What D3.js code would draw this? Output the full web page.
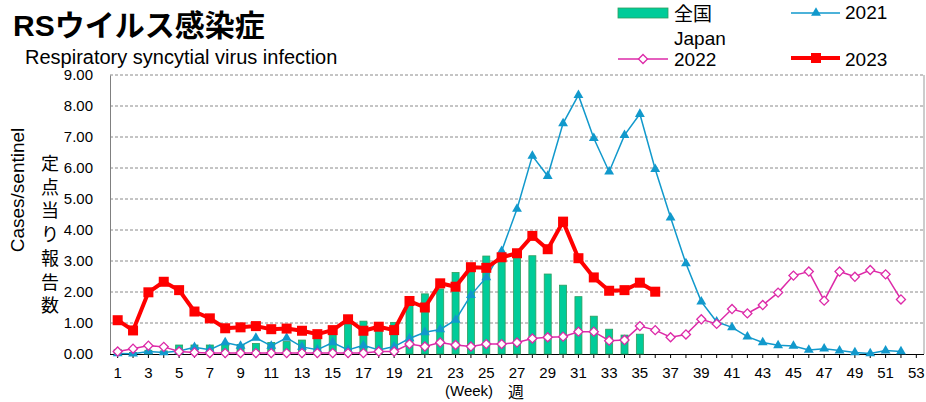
<!DOCTYPE html>
<html>
<head>
<meta charset="utf-8">
<script src="https://cdn.jsdelivr.net/npm/d3@7"></script>
<style>
  body { margin: 0; background: #fff; }
  svg { display: block; font-family: "Liberation Sans", Arial, "Noto Sans CJK JP", sans-serif; }
</style>
</head>
<body>
<svg id="chart" width="926" height="402"></svg>
<script>
// weeks on the x axis
const weeks = d3.range(1, 54);
const weekLabels = weeks.filter(w => w % 2 === 1);
const yTicks = [0, 1, 2, 3, 4, 5, 6, 7, 8, 9];

// 全国 Japan (bars), weeks 1-35
const japan = [0.15, 0.05, 0.12, 0.10, 0.29, 0.29, 0.29, 0.30, 0.31, 0.34,
  0.37, 0.40, 0.45, 0.50, 0.70, 1.04, 1.06, 0.92, 1.02, 1.62,
  1.94, 2.10, 2.63, 2.84, 3.16, 3.12, 3.20, 3.17, 2.58, 2.22,
  1.85, 1.22, 0.80, 0.61, 0.64];

// 2021, weeks 1-52
const y2021 = [0.02, 0.01, 0.08, 0.05, 0.10, 0.22, 0.14, 0.37, 0.26, 0.52,
  0.26, 0.52, 0.23, 0.14, 0.37, 0.13, 0.28, 0.13, 0.24, 0.50,
  0.70, 0.79, 1.10, 1.90, 2.47, 3.32, 4.68, 6.39, 5.74, 7.44,
  8.35, 6.96, 5.88, 7.06, 7.74, 5.96, 4.40, 2.92, 1.69, 1.04,
  0.86, 0.56, 0.37, 0.28, 0.26, 0.13, 0.17, 0.11, 0.05, 0.02,
  0.11, 0.08];

// 2022, weeks 1-52
const y2022 = [0.08, 0.17, 0.27, 0.23, 0.08, 0.05, 0.03, 0.03, 0.03, 0.03,
  0.03, 0.03, 0.03, 0.03, 0.03, 0.03, 0.03, 0.08, 0.08, 0.32,
  0.24, 0.37, 0.29, 0.24, 0.32, 0.32, 0.37, 0.50, 0.54, 0.56,
  0.72, 0.72, 0.43, 0.45, 0.90, 0.77, 0.54, 0.63, 1.12, 0.97,
  1.45, 1.31, 1.58, 1.98, 2.53, 2.66, 1.72, 2.66, 2.49, 2.71,
  2.57, 1.76];

// 2023, weeks 1-36
const y2023 = [1.09, 0.76, 1.99, 2.33, 2.06, 1.37, 1.15, 0.83, 0.86, 0.90,
  0.80, 0.82, 0.75, 0.64, 0.77, 1.12, 0.75, 0.88, 0.77, 1.71,
  1.50, 2.28, 2.17, 2.80, 2.78, 3.12, 3.25, 3.81, 3.38, 4.27,
  3.09, 2.47, 2.04, 2.06, 2.30, 2.01];

const C_BAR = "#00cc99", C_BAR_EDGE = "#2e9e5e";
const C_21 = "#1199cc", C_22 = "#dd2aa8", C_23 = "#ff0000";

const svg = d3.select("#chart");
const plotL = 110, plotR = 924, plotT = 75, plotB = 354;

const x = d3.scaleBand().domain(weeks).range([plotL, plotR]).padding(0);
const cx = w => x(w) + x.bandwidth() / 2;
const y = d3.scaleLinear().domain([0, 9]).range([plotB, plotT]);

// gridlines
svg.append("g").selectAll("line")
  .data(yTicks.filter(v => v > 0))
  .enter().append("line")
  .attr("x1", plotL).attr("x2", plotR)
  .attr("y1", d => y(d)).attr("y2", d => y(d))
  .attr("stroke", "#8a8a8a").attr("stroke-width", 1)
  .attr("stroke-dasharray", "3,2");

// right border
svg.append("line")
  .attr("x1", plotR).attr("x2", plotR).attr("y1", plotT).attr("y2", plotB)
  .attr("stroke", "#9a9a9a");

// y axis
const yAxis = svg.append("g")
  .attr("transform", `translate(${plotL},0)`)
  .call(d3.axisLeft(y).tickValues(yTicks).tickFormat(d3.format(".2f")).tickSize(0).tickPadding(17));
yAxis.select(".domain").attr("stroke", "#808080");
yAxis.selectAll("text").attr("font-size", 15).attr("fill", "#000")
  .attr("font-family", "'Liberation Sans', Arial, sans-serif");

// x axis
const xAxis = svg.append("g")
  .attr("transform", `translate(0,${plotB})`)
  .call(d3.axisBottom(x).tickSize(4).tickFormat(d => weekLabels.includes(d) ? d : ""));
xAxis.select(".domain").attr("stroke", "#000").attr("d", `M${plotL},0.5H${plotR}`);
xAxis.selectAll(".tick line").attr("stroke", "#000");
xAxis.selectAll("text").attr("font-size", 15).attr("fill", "#000").attr("dy", "0")
  .attr("y", 24).attr("font-family", "'Liberation Sans', Arial, sans-serif");

// bars
const barW = 7;
svg.append("g").selectAll("rect")
  .data(japan.map((v, i) => ({ w: i + 1, v })))
  .enter().append("rect")
  .attr("x", d => cx(d.w) - barW / 2)
  .attr("y", d => y(d.v))
  .attr("width", barW)
  .attr("height", d => plotB - y(d.v))
  .attr("fill", C_BAR)
  .attr("stroke", C_BAR_EDGE).attr("stroke-width", 0.8);

const line = d3.line().x(d => cx(d.w)).y(d => y(d.v));
const toPts = arr => arr.map((v, i) => ({ w: i + 1, v }));

// 2021
const p21 = toPts(y2021);
svg.append("path").datum(p21).attr("d", line)
  .attr("fill", "none").attr("stroke", C_21).attr("stroke-width", 1.5);
svg.append("g").selectAll("path").data(p21).enter().append("path")
  .attr("d", d3.symbol().type(d3.symbolTriangle).size(42))
  .attr("transform", d => `translate(${cx(d.w)},${y(d.v)})`)
  .attr("fill", C_21);

// 2022
const p22 = toPts(y2022);
svg.append("path").datum(p22).attr("d", line)
  .attr("fill", "none").attr("stroke", C_22).attr("stroke-width", 1.5);
svg.append("g").selectAll("rect").data(p22).enter().append("rect")
  .attr("x", -3.2).attr("y", -3.2).attr("width", 6.4).attr("height", 6.4)
  .attr("transform", d => `translate(${cx(d.w)},${y(d.v)}) rotate(45)`)
  .attr("fill", "#fff").attr("stroke", C_22).attr("stroke-width", 1.3);

// 2023
const p23 = toPts(y2023);
svg.append("path").datum(p23).attr("d", line)
  .attr("fill", "none").attr("stroke", C_23).attr("stroke-width", 4)
  .attr("stroke-linejoin", "round");
svg.append("g").selectAll("rect").data(p23).enter().append("rect")
  .attr("x", d => cx(d.w) - 5).attr("y", d => y(d.v) - 5)
  .attr("width", 10).attr("height", 10)
  .attr("fill", C_23);

// titles
svg.append("text").attr("x", 13).attr("y", 36)
  .attr("font-size", 30).attr("font-weight", "bold")
  .attr("font-family", "'Liberation Sans', Arial, 'Noto Sans CJK JP', sans-serif")
  .text("RSウイルス感染症");
svg.append("text").attr("x", 25).attr("y", 64)
  .attr("font-size", 20)
  .text("Respiratory syncytial virus infection");

// y axis titles
svg.append("text")
  .attr("transform", "translate(24,190) rotate(-90)")
  .attr("text-anchor", "middle").attr("font-size", 19)
  .text("Cases/sentinel");
const jp = "定点当り報告数".split("");
svg.append("g").selectAll("text").data(jp).enter().append("text")
  .attr("x", 50).attr("y", (d, i) => 170 + i * 23.7)
  .attr("text-anchor", "middle").attr("font-size", 18)
  .attr("font-family", "'Noto Sans CJK JP', sans-serif")
  .text(d => d);

// x axis title
svg.append("text").attr("x", 445).attr("y", 396)
  .attr("font-size", 15).text("(Week)");
svg.append("text").attr("x", 508).attr("y", 398)
  .attr("font-size", 16).attr("font-family", "'Noto Sans CJK JP', sans-serif")
  .text("週");

// legend
const lg = svg.append("g").attr("font-size", 19);
lg.append("rect").attr("x", 618).attr("y", 8).attr("width", 50).attr("height", 10)
  .attr("fill", C_BAR).attr("stroke", C_BAR_EDGE).attr("stroke-width", 0.8);
lg.append("text").attr("x", 674).attr("y", 21)
  .attr("font-family", "'Noto Sans CJK JP', sans-serif").text("全国");
lg.append("text").attr("x", 674).attr("y", 45).text("Japan");

lg.append("line").attr("x1", 618).attr("x2", 668).attr("y1", 59).attr("y2", 59)
  .attr("stroke", C_22).attr("stroke-width", 1.5);
lg.append("rect").attr("x", -3.2).attr("y", -3.2).attr("width", 6.4).attr("height", 6.4)
  .attr("transform", "translate(643,59) rotate(45)")
  .attr("fill", "#fff").attr("stroke", C_22).attr("stroke-width", 1.3);
lg.append("text").attr("x", 674).attr("y", 66).text("2022");

lg.append("line").attr("x1", 791).attr("x2", 840).attr("y1", 13).attr("y2", 13)
  .attr("stroke", C_21).attr("stroke-width", 1.5);
lg.append("path").attr("d", d3.symbol().type(d3.symbolTriangle).size(42))
  .attr("transform", "translate(816,13)").attr("fill", C_21);
lg.append("text").attr("x", 845).attr("y", 19).text("2021");

lg.append("line").attr("x1", 791).attr("x2", 840).attr("y1", 58).attr("y2", 58)
  .attr("stroke", C_23).attr("stroke-width", 4);
lg.append("rect").attr("x", 811).attr("y", 53).attr("width", 10).attr("height", 10)
  .attr("fill", C_23);
lg.append("text").attr("x", 845).attr("y", 66).text("2023");
</script>
</body>
</html>
